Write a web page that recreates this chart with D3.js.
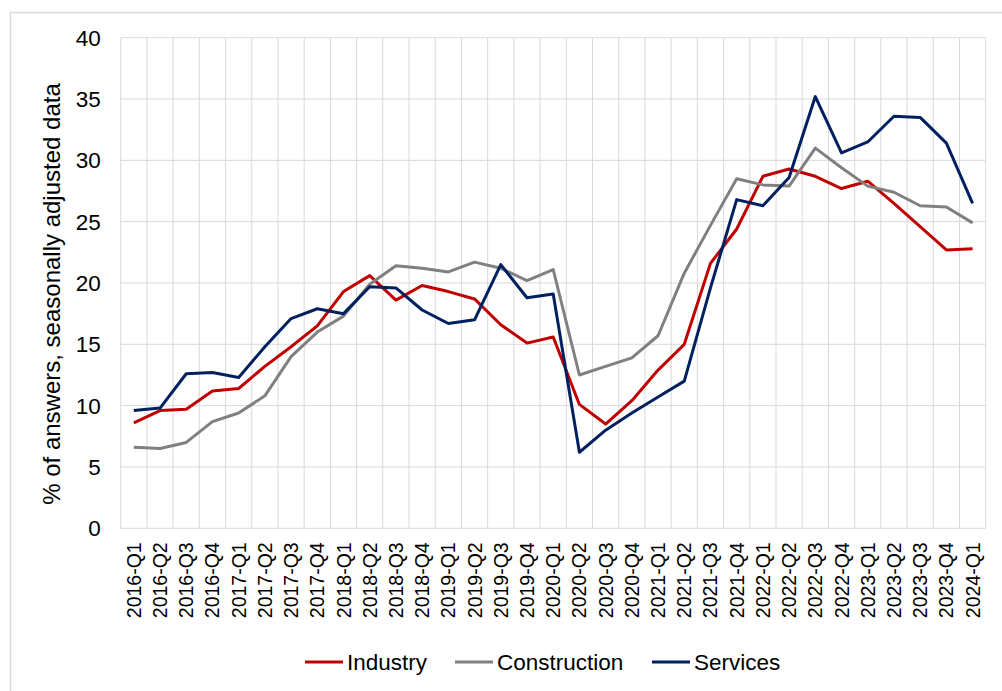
<!DOCTYPE html>
<html>
<head>
<meta charset="utf-8">
<script src="https://cdn.jsdelivr.net/npm/d3@7"></script>
<style>
  body { margin: 0; background: #fff; }
  text { font-family: "Liberation Sans", Arial, sans-serif; fill: #000; }
</style>
</head>
<body>
<div id="chart"></div>
<script>
// quarters on the x axis
const quarters = [
  "2016-Q1","2016-Q2","2016-Q3","2016-Q4","2017-Q1","2017-Q2","2017-Q3","2017-Q4",
  "2018-Q1","2018-Q2","2018-Q3","2018-Q4","2019-Q1","2019-Q2","2019-Q3","2019-Q4",
  "2020-Q1","2020-Q2","2020-Q3","2020-Q4","2021-Q1","2021-Q2","2021-Q3","2021-Q4",
  "2022-Q1","2022-Q2","2022-Q3","2022-Q4","2023-Q1","2023-Q2","2023-Q3","2023-Q4",
  "2024-Q1"
]

// series values (% of answers, seasonally adjusted)
const industry = [
  8.6, 9.6, 9.7, 11.2, 11.4, 13.2, 14.8, 16.5,
  19.3, 20.6, 18.6, 19.8, 19.3, 18.7, 16.6, 15.1,
  15.6, 10.1, 8.5, 10.4, 12.9, 15.0, 21.6, 24.4,
  28.7, 29.3, 28.7, 27.7, 28.3, 26.5, 24.6, 22.7,
  22.8
]
const construction = [
  6.6, 6.5, 7.0, 8.7, 9.4, 10.8, 14.0, 16.0,
  17.3, 19.9, 21.4, 21.2, 20.9, 21.7, 21.2, 20.2,
  21.1, 12.5, 13.2, 13.9, 15.7, 20.8, 24.7, 28.5,
  28.0, 27.9, 31.0, 29.4, 27.9, 27.4, 26.3, 26.2,
  24.9
]
const services = [
  9.6, 9.8, 12.6, 12.7, 12.3, 14.8, 17.1, 17.9,
  17.5, 19.7, 19.6, 17.8, 16.7, 17.0, 21.5, 18.8,
  19.1, 6.2, 8.0, 9.4, 10.7, 12.0, 19.6, 26.8,
  26.3, 28.6, 35.2, 30.6, 31.5, 33.6, 33.5, 31.4,
  26.5
]
const yTicks = [0, 5, 10, 15, 20, 25, 30, 35, 40]

const seriesList = [
  {name: "Industry", values: industry, color: "#c00000"},
  {name: "Construction", values: construction, color: "#808080"},
  {name: "Services", values: services, color: "#002060"}
]

const width = 1002, height = 691
const margin = {top: 37.7, right: 16.3, bottom: 162.7, left: 120.7}
const w = width - margin.left - margin.right
const h = height - margin.top - margin.bottom

const svg = d3.select("#chart").append("svg")
  .attr("width", width)
  .attr("height", height)

// outer chart border (only top/left visible in the frame)
svg.append("rect")
  .attr("x", 10.5).attr("y", 12.5)
  .attr("width", 1100).attr("height", 800)
  .style("fill", "none")
  .style("stroke", "#d9d9d9")
  .style("stroke-width", 1.5)

const g = svg.append("g")
  .attr("transform", "translate(" + margin.left + "," + margin.top + ")")

const x = d3.scaleBand().domain(quarters).range([0, w]).padding(0)
const y = d3.scaleLinear().domain([0, 40]).range([h, 0])

// horizontal gridlines
g.selectAll(".hgrid")
  .data(yTicks)
  .enter().append("line")
  .attr("x1", 0).attr("x2", w)
  .attr("y1", d => y(d)).attr("y2", d => y(d))
  .style("stroke", "#d9d9d9")
  .style("stroke-width", 1)

// vertical gridlines at category boundaries
const bounds = quarters.map(q => x(q)).concat([w])
g.selectAll(".vgrid")
  .data(bounds)
  .enter().append("line")
  .attr("x1", d => d).attr("x2", d => d)
  .attr("y1", 0).attr("y2", h)
  .style("stroke", "#d9d9d9")
  .style("stroke-width", 1)

// y tick labels
g.selectAll(".ylab")
  .data(yTicks)
  .enter().append("text")
  .attr("x", -20)
  .attr("y", d => y(d))
  .attr("dy", "0.35em")
  .attr("text-anchor", "end")
  .style("font-size", "22.5px")
  .text(d => d)

// x tick labels, rotated
g.selectAll(".xlab")
  .data(quarters)
  .enter().append("text")
  .attr("transform", d => "translate(" + (x(d) + x.bandwidth() / 2 + 7) + "," + (h + 14) + ") rotate(-90)")
  .attr("text-anchor", "end")
  .style("font-size", "19.5px")
  .text(d => d)

// y axis title
svg.append("text")
  .attr("transform", "translate(60,294) rotate(-90)")
  .attr("text-anchor", "middle")
  .style("font-size", "24px")
  .text("% of answers, seasonally adjusted data")

// lines
const line = d3.line()
  .x((d, i) => x(quarters[i]) + x.bandwidth() / 2)
  .y(d => y(d))

g.selectAll(".series")
  .data(seriesList)
  .enter().append("path")
  .attr("d", d => line(d.values))
  .style("fill", "none")
  .style("stroke", d => d.color)
  .style("stroke-width", 3)
  .style("stroke-linejoin", "round")

// legend
const legendX = [305, 455, 652]
const legend = svg.selectAll(".legend")
  .data(seriesList)
  .enter().append("g")
  .attr("transform", (d, i) => "translate(" + legendX[i] + ",662)")

legend.append("line")
  .attr("x1", 0).attr("x2", 38)
  .attr("y1", 0).attr("y2", 0)
  .style("stroke", d => d.color)
  .style("stroke-width", 3)

legend.append("text")
  .attr("x", 42)
  .attr("y", 0)
  .attr("dy", "0.35em")
  .style("font-size", "22.5px")
  .text(d => d.name)
</script>
</body>
</html>
